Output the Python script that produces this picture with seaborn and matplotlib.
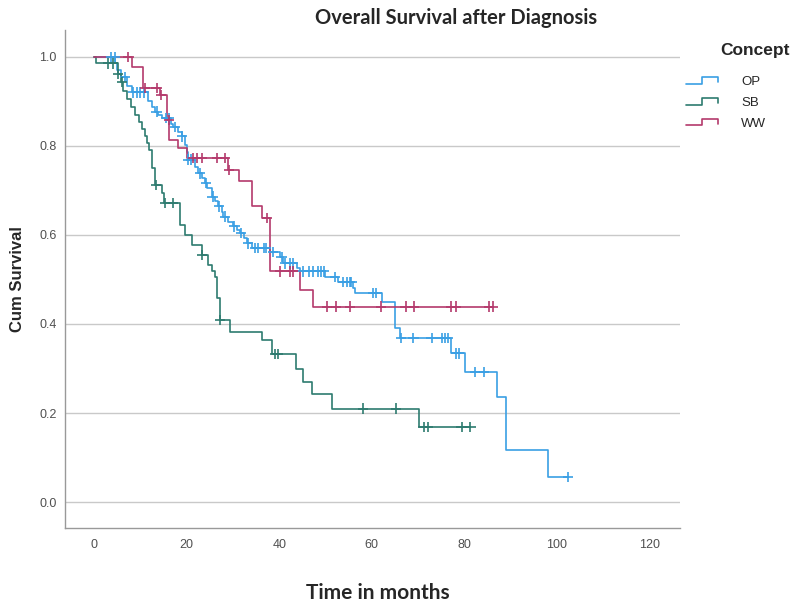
import numpy as np
import pandas as pd
import matplotlib
matplotlib.use("Agg")
import matplotlib.pyplot as plt
import seaborn as sns
from matplotlib.lines import Line2D
from matplotlib.legend_handler import HandlerBase

# Kaplan-Meier steps: event time (months) -> survival after it
op_times = [4.5, 5.0, 5.8, 7.1, 8.2, 11.6, 12.4, 13.1, 13.9, 14.6, 16.6, 17.1, 18.2, 18.9,
            19.6, 20.0, 20.3, 21.8, 22.5, 23.3, 24.0, 24.3, 25.4, 26.1, 26.8, 27.6, 27.9,
            29.0, 30.1, 30.8, 31.5, 32.3, 33.0, 34.1, 38.0, 40.2, 40.9, 43.8, 44.5, 49.9,
            52.8, 56.0, 56.4, 62.3, 65.0, 66.0, 77.2, 80.1, 87.0, 89.0, 98.1]
op_surv = [0.985, 0.97, 0.955, 0.934, 0.92, 0.90, 0.888, 0.877, 0.87, 0.863, 0.85, 0.843,
           0.832, 0.821, 0.802, 0.785, 0.769, 0.753, 0.738, 0.727, 0.716, 0.705, 0.686,
           0.675, 0.664, 0.652, 0.641, 0.63, 0.619, 0.611, 0.604, 0.593, 0.581, 0.57,
           0.562, 0.551, 0.536, 0.525, 0.518, 0.506, 0.495, 0.48, 0.469, 0.45, 0.39,
           0.368, 0.334, 0.293, 0.237, 0.117, 0.057]
op_censored = [3.6, 4.4, 6.6, 8.5, 9.2, 10.0, 10.8, 13.5, 15.5, 16.2, 17.5, 19.0, 20.3,
               21.0, 22.8, 24.1, 25.6, 27.0, 28.3, 30.3, 31.8, 33.3, 34.8, 35.4, 36.6,
               37.2, 38.6, 40.5, 41.3, 42.3, 43.0, 45.2, 46.4, 47.4, 48.3, 49.0, 49.6,
               52.0, 53.8, 54.6, 55.3, 55.6, 60.3, 61.0, 66.3, 69.0, 72.9, 75.1, 75.8,
               76.5, 78.2, 78.9, 82.3, 84.2, 102.4]

sb_times = [0.3, 5.2, 5.8, 6.3, 7.2, 8.0, 8.8, 9.6, 10.3, 11.0, 11.5, 11.9, 12.4, 13.2,
            14.6, 15.0, 18.6, 19.7, 21.1, 23.3, 24.7, 25.5, 26.1, 26.5, 27.2, 29.4, 36.2,
            38.4, 43.7, 45.1, 47.0, 51.4, 70.2]
sb_surv = [0.985, 0.962, 0.944, 0.922, 0.905, 0.888, 0.87, 0.854, 0.838, 0.822, 0.806,
           0.79, 0.75, 0.712, 0.694, 0.671, 0.622, 0.60, 0.578, 0.555, 0.532, 0.52, 0.506,
           0.458, 0.409, 0.383, 0.364, 0.333, 0.30, 0.27, 0.243, 0.21, 0.168]
sb_censored = [3.0, 4.1, 5.2, 6.0, 13.4, 15.3, 17.1, 23.3, 27.2, 39.1, 39.8, 58.1, 65.2,
               71.2, 72.1, 79.4, 81.3]

ww_times = [8.1, 10.6, 14.3, 15.8, 16.2, 18.2, 20.0, 29.0, 31.2, 34.1, 36.2, 38.0, 44.5, 47.4]
ww_surv = [0.977, 0.93, 0.914, 0.858, 0.813, 0.795, 0.772, 0.746, 0.72, 0.664, 0.638,
           0.518, 0.476, 0.439]
ww_censored = [7.4, 11.0, 13.5, 14.4, 16.1, 21.4, 22.2, 23.2, 26.5, 28.3, 29.2, 37.3,
               40.2, 42.3, 43.0, 50.3, 52.3, 55.3, 62.0, 67.3, 69.1, 77.2, 78.2, 85.4, 86.2]

groups = ["OP", "SB", "WW"]
colors = ["#3a9fe4", "#2e7b70", "#b43a6c"]


def curve_frame(name, times, surv, censored):
    end = max(censored[-1], times[-1])
    t = [0.0] + times + [end]
    s = [1.0] + surv + [surv[-1]]
    return pd.DataFrame({"time": t, "surv": s, "Concept": name})


def censor_frame(name, times, surv, censored):
    # censored cases sit on the survival level at their time
    idx = np.searchsorted(times, censored, side="right") - 1
    levels = [1.0 if i < 0 else surv[i] for i in idx]
    return pd.DataFrame({"time": censored, "surv": levels, "Concept": name})


data = {
    "OP": (op_times, op_surv, op_censored),
    "SB": (sb_times, sb_surv, sb_censored),
    "WW": (ww_times, ww_surv, ww_censored),
}
curves = pd.concat([curve_frame(g, *data[g]) for g in groups], ignore_index=True)
marks = pd.concat([censor_frame(g, *data[g]) for g in groups], ignore_index=True)
palette = dict(zip(groups, colors))


class StepHandler(HandlerBase):
    """Legend key drawn as a small step, the way SPSS shows it."""

    def create_artists(self, legend, orig_handle, xdescent, ydescent, width, height,
                       fontsize, trans):
        x0, y0 = -xdescent, -ydescent
        xs = [x0, x0 + 0.5 * width, x0 + 0.5 * width, x0 + width, x0 + width]
        ys = [y0 + 0.15 * height, y0 + 0.15 * height, y0 + 0.85 * height,
              y0 + 0.85 * height, y0 + 0.35 * height]
        line = Line2D(xs, ys, color=orig_handle.get_color(), lw=1.2, transform=trans)
        return [line]


sns.set_style("white")
plt.rcParams["font.family"] = ["Liberation Sans", "DejaVu Sans"]

fig = plt.figure(figsize=(7.93, 6.04), dpi=100)
ax = fig.add_axes([65 / 793, 1 - 528 / 604, 615 / 793, 498 / 604])

sns.lineplot(data=curves, x="time", y="surv", hue="Concept", palette=palette,
             drawstyle="steps-post", estimator=None, sort=False, lw=1.2,
             legend=False, ax=ax)
sns.scatterplot(data=marks, x="time", y="surv", hue="Concept", palette=palette,
                marker="+", s=55, linewidth=1.2, legend=False, ax=ax, zorder=3)

ax.set_xlim(-6.3, 126.6)
ax.set_ylim(-0.058, 1.06)
ax.set_xticks([0, 20, 40, 60, 80, 100, 120])
ax.set_yticks([0.0, 0.2, 0.4, 0.6, 0.8, 1.0])
ax.set_yticklabels(["0.0", "0.2", "0.4", "0.6", "0.8", "1.0"])
ax.grid(axis="y", color="#c9c9c9", lw=1.0)
ax.set_axisbelow(True)
ax.tick_params(axis="both", length=0, labelsize=9, labelcolor="#505050")
ax.tick_params(axis="x", pad=8)
ax.tick_params(axis="y", pad=6)
for side in ["top", "right"]:
    ax.spines[side].set_visible(False)
for side in ["left", "bottom"]:
    ax.spines[side].set_color("#999999")
    ax.spines[side].set_linewidth(1.0)

ax.set_xlabel("")
ax.set_ylabel("Cum Survival", fontsize=12, fontweight="bold", labelpad=10)
fig.text(378 / 793, 1 - 593 / 604, "Time in months", ha="center", va="center",
         fontsize=15, fontweight="bold", family="Lato")
fig.text(456 / 793, 1 - 18 / 604, "Overall Survival after Diagnosis", ha="center",
         va="center", fontsize=14.5, fontweight="bold", family="Lato")
fig.text(720 / 793, 1 - 50 / 604, "Concept", ha="left", va="center", fontsize=12.5,
         fontweight="bold")

handles = [Line2D([], [], color=palette[g]) for g in groups]
ax.legend(handles, groups, handler_map={Line2D: StepHandler()}, loc="upper left",
          bbox_to_anchor=(674 / 793, 1 - 64 / 604), bbox_transform=fig.transFigure,
          frameon=False, handlelength=2.4, handletextpad=1.8, fontsize=9.5,
          labelspacing=0.65)

fig.savefig("out.png", dpi=100)
